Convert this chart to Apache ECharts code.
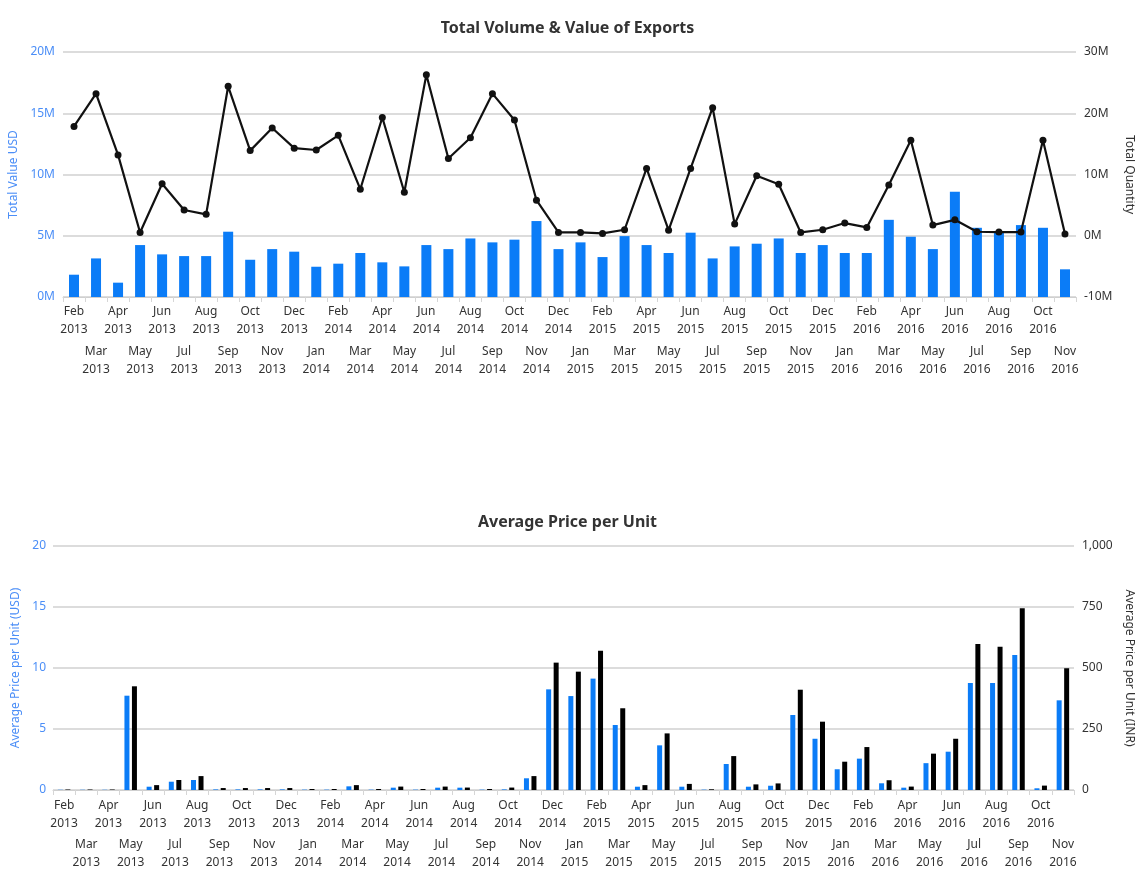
<!DOCTYPE html>
<html>
<head>
<meta charset="utf-8">
<script src="https://cdn.jsdelivr.net/npm/echarts@6/dist/echarts.min.js"></script>
<style>
  html, body { margin: 0; padding: 0; background: #fff; }
  #chart { width: 1135px; height: 871px; }
</style>
</head>
<body>
<div id="chart"></div>
<script>
// Monthly export figures, Feb 2013 – Nov 2016
const months = [
  'Feb 2013','Mar 2013','Apr 2013','May 2013','Jun 2013','Jul 2013','Aug 2013','Sep 2013','Oct 2013','Nov 2013','Dec 2013',
  'Jan 2014','Feb 2014','Mar 2014','Apr 2014','May 2014','Jun 2014','Jul 2014','Aug 2014','Sep 2014','Oct 2014','Nov 2014','Dec 2014',
  'Jan 2015','Feb 2015','Mar 2015','Apr 2015','May 2015','Jun 2015','Jul 2015','Aug 2015','Sep 2015','Oct 2015','Nov 2015','Dec 2015',
  'Jan 2016','Feb 2016','Mar 2016','Apr 2016','May 2016','Jun 2016','Jul 2016','Aug 2016','Sep 2016','Oct 2016','Nov 2016'
];

// Total value in USD (millions)
const totalValueM = [
  1.82, 3.15, 1.17, 4.24, 3.48, 3.34, 3.34, 5.33, 3.04, 3.91, 3.70,
  2.47, 2.72, 3.59, 2.83, 2.50, 4.24, 3.91, 4.78, 4.46, 4.68, 6.20, 3.91,
  4.46, 3.26, 4.97, 4.24, 3.59, 5.25, 3.15, 4.13, 4.35, 4.78, 3.59, 4.24,
  3.59, 3.59, 6.30, 4.92, 3.91, 8.59, 5.65, 5.25, 5.87, 5.65, 2.26
];

// Total quantity (millions of units)
const totalQuantityM = [
  17.85, 23.2, 13.2, 0.54, 8.5, 4.2, 3.5, 24.4, 13.9, 17.6, 14.3,
  14.0, 16.4, 7.6, 19.3, 7.1, 26.3, 12.6, 16.0, 23.2, 18.9, 5.8, 0.54,
  0.54, 0.38, 0.98, 11.0, 0.9, 11.0, 20.9, 1.9, 9.8, 8.4, 0.54, 0.98,
  2.07, 1.36, 8.3, 15.6, 1.74, 2.6, 0.65, 0.6, 0.6, 15.6, 0.27
];

// Average price per unit
const avgPriceUSD = [
  0.02, 0.02, 0.02, 7.73, 0.27, 0.68, 0.82, 0.05, 0.05, 0.05, 0.05,
  0.03, 0.03, 0.30, 0.03, 0.19, 0.03, 0.19, 0.19, 0.03, 0.05, 0.96, 8.25,
  7.70, 9.13, 5.33, 0.27, 3.66, 0.27, 0.03, 2.13, 0.27, 0.35, 6.15, 4.20,
  1.70, 2.57, 0.55, 0.19, 2.20, 3.14, 8.77, 8.77, 11.07, 0.14, 7.35
];
const avgPriceINR = [
  2, 2, 2, 425, 20, 41, 57, 8, 8, 8, 8,
  4, 4, 20, 4, 14, 4, 14, 10, 4, 10, 57, 522,
  485, 571, 335, 20, 232, 25, 3, 139, 23, 27, 411, 280,
  116, 176, 40, 14, 149, 210, 598, 587, 745, 18, 499
];

const FONT = '"Noto Sans", "Open Sans", sans-serif';
const BLUE = '#0b7cf7';
const AXIS_BLUE = '#4b8ef7';
const TEXT = '#333333';
const GRID = '#dcdcdc';

// Two-line month labels, every other one pushed down to a second row
function monthLabel() {
  return function (v, i) {
    const parts = v.split(' ');
    const body = '{t|' + parts[0] + '}\n{t|' + parts[1] + '}';
    return i % 2 === 0 ? body : '{g| }\n' + body;
  };
}

function xAxisFor(gridIndex, rowGap, margin) {
  return {
    type: 'category',
    gridIndex: gridIndex,
    data: months,
    axisLine: { lineStyle: { color: '#cfcfcf', width: 1 } },
    axisTick: { show: true, length: 5, lineStyle: { color: '#d6d6d6' } },
    axisLabel: {
      interval: 0,
      margin: margin,
      fontFamily: FONT,
      fontSize: 12,
      color: TEXT,
      formatter: monthLabel(),
      rich: {
        t: { fontFamily: FONT, fontSize: 12, color: TEXT, lineHeight: 18 },
        g: { fontSize: 12, lineHeight: rowGap }
      }
    }
  };
}

const chart = echarts.init(document.getElementById('chart'), null, { renderer: 'canvas' });

chart.setOption({
  backgroundColor: '#ffffff',
  animation: false,
  title: [
    {
      text: 'Total Volume & Value of Exports',
      left: 'center', top: 15,
      textStyle: { fontFamily: FONT, fontSize: 16, fontWeight: 'bold', color: TEXT }
    },
    {
      text: 'Average Price per Unit',
      left: 'center', top: 509,
      textStyle: { fontFamily: FONT, fontSize: 16, fontWeight: 'bold', color: TEXT }
    }
  ],
  grid: [
    { left: 63, right: 59, top: 52, height: 245, outerBoundsMode: 'none', containLabel: false },
    { left: 53, right: 61, top: 546, height: 244, outerBoundsMode: 'none', containLabel: false }
  ],
  xAxis: [
    xAxisFor(0, 40, 6),
    xAxisFor(1, 39, 7)
  ],
  yAxis: [
    {
      type: 'value', gridIndex: 0, min: 0, max: 20e6, interval: 5e6,
      name: 'Total Value USD', nameLocation: 'middle', nameGap: 41, nameRotate: 90,
      nameTextStyle: { fontFamily: FONT, fontSize: 12, color: AXIS_BLUE },
      axisLine: { show: false }, axisTick: { show: false },
      axisLabel: { margin: 8, fontFamily: FONT, fontSize: 12, color: AXIS_BLUE,
        formatter: v => (v / 1e6) + 'M' },
      splitLine: { lineStyle: { color: GRID, width: 2 } }
    },
    {
      type: 'value', gridIndex: 0, min: -10e6, max: 30e6, interval: 10e6, position: 'right',
      name: 'Total Quantity', nameLocation: 'middle', nameGap: 45, nameRotate: -90,
      nameTextStyle: { fontFamily: FONT, fontSize: 12, color: TEXT },
      axisLine: { show: false }, axisTick: { show: false },
      axisLabel: { margin: 8, fontFamily: FONT, fontSize: 12, color: TEXT,
        formatter: v => (v / 1e6) + 'M' },
      splitLine: { show: false }
    },
    {
      type: 'value', gridIndex: 1, min: 0, max: 20, interval: 5,
      name: 'Average Price per Unit (USD)', nameLocation: 'middle', nameGap: 30, nameRotate: 90,
      nameTextStyle: { fontFamily: FONT, fontSize: 12, color: AXIS_BLUE },
      axisLine: { show: false }, axisTick: { show: false },
      axisLabel: { margin: 7, fontFamily: FONT, fontSize: 12, color: AXIS_BLUE },
      splitLine: { lineStyle: { color: GRID, width: 2 } }
    },
    {
      type: 'value', gridIndex: 1, min: 0, max: 1000, interval: 250, position: 'right',
      name: 'Average Price per Unit (INR)', nameLocation: 'middle', nameGap: 48, nameRotate: -90,
      nameTextStyle: { fontFamily: FONT, fontSize: 12, color: TEXT },
      axisLine: { show: false }, axisTick: { show: false },
      axisLabel: { margin: 8, fontFamily: FONT, fontSize: 12, color: TEXT,
        formatter: v => v.toLocaleString('en-US') },
      splitLine: { show: false }
    }
  ],
  series: [
    {
      name: 'Total Value USD', type: 'bar', xAxisIndex: 0, yAxisIndex: 0,
      data: totalValueM.map(v => v * 1e6),
      barWidth: 10,
      itemStyle: { color: BLUE },
      z: 2
    },
    {
      name: 'Total Quantity', type: 'line', xAxisIndex: 0, yAxisIndex: 1,
      data: totalQuantityM.map(v => v * 1e6),
      symbol: 'circle', symbolSize: 7,
      lineStyle: { color: '#111111', width: 2.2 },
      itemStyle: { color: '#111111' },
      z: 5
    },
    {
      name: 'Average Price per Unit (USD)', type: 'bar', xAxisIndex: 1, yAxisIndex: 2,
      data: avgPriceUSD,
      barWidth: 5, barGap: '50%',
      itemStyle: { color: BLUE }
    },
    {
      name: 'Average Price per Unit (INR)', type: 'bar', xAxisIndex: 1, yAxisIndex: 3,
      data: avgPriceINR,
      barWidth: 5, barGap: '50%',
      itemStyle: { color: '#000000' }
    }
  ]
});
</script>
</body>
</html>
